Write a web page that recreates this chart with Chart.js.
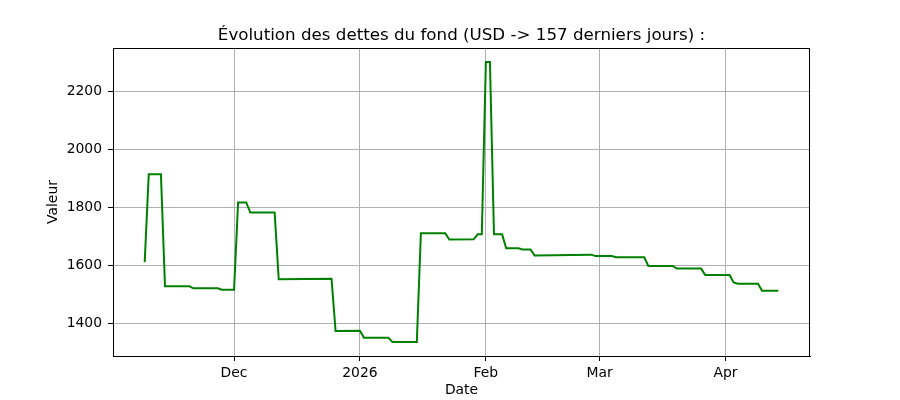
<!DOCTYPE html>
<html>
<head>
<meta charset="utf-8">
<script src="https://cdn.jsdelivr.net/npm/chart.js@4/dist/chart.umd.min.js"></script>
<style>
  html, body { margin: 0; padding: 0; background: #fff; }
</style>
</head>
<body>
<canvas id="debt_chart" width="900" height="400"></canvas>
<script>
// dates where the debt value changes (daily series, only the corners are listed)
const debtDates = [
  '2025-11-09', '2025-11-10', '2025-11-13', '2025-11-14', '2025-11-20', '2025-11-21',
  '2025-11-27', '2025-11-28', '2025-12-01', '2025-12-02', '2025-12-04', '2025-12-05',
  '2025-12-11', '2025-12-12', '2025-12-25', '2025-12-26', '2026-01-01', '2026-01-02',
  '2026-01-08', '2026-01-09', '2026-01-15', '2026-01-16', '2026-01-22', '2026-01-23',
  '2026-01-29', '2026-01-30', '2026-01-31', '2026-02-01', '2026-02-02', '2026-02-03',
  '2026-02-05', '2026-02-06', '2026-02-09', '2026-02-10', '2026-02-12', '2026-02-13',
  '2026-02-27', '2026-02-28', '2026-03-04', '2026-03-05', '2026-03-12', '2026-03-13',
  '2026-03-19', '2026-03-20', '2026-03-26', '2026-03-27', '2026-04-02', '2026-04-03',
  '2026-04-04', '2026-04-09', '2026-04-10', '2026-04-14'
];
const debtValues = [
  1611, 1914, 1914, 1528, 1528, 1521,
  1521, 1516, 1516, 1817, 1817, 1782,
  1782, 1552, 1554, 1374, 1375, 1351,
  1351, 1336, 1336, 1711, 1711, 1689,
  1690, 1707, 1707, 2301, 2301, 1707,
  1707, 1659, 1659, 1655, 1655, 1634,
  1637, 1632, 1632, 1628, 1628, 1598,
  1598, 1589, 1589, 1567, 1567, 1541,
  1537, 1537, 1513, 1513
];
const monthTickDates = ['2025-12-01', '2026-01-01', '2026-02-01', '2026-03-01', '2026-04-01'];
const monthTickLabels = ['Dec', '2026', 'Feb', 'Mar', 'Apr'];
const valueTicks = [1400, 1600, 1800, 2000, 2200];
const chartTitle = 'Évolution des dettes du fond (USD -> 157 derniers jours) :';

const DAY = 86400000;
const origin = Date.UTC(2025, 11, 1);

function toDay(str) {
  const p = str.split('-').map(Number);
  return Math.round((Date.UTC(p[0], p[1] - 1, p[2]) - origin) / DAY);
}

const points = debtDates.map((d, i) => ({ x: toDay(d), y: debtValues[i] }));
const monthDays = monthTickDates.map(toDay);

// matplotlib style 5% margins
const xMin = points[0].x, xMax = points[points.length - 1].x;
const yMin = Math.min(...debtValues), yMax = Math.max(...debtValues);
const xPad = (xMax - xMin) * 0.05, yPad = (yMax - yMin) * 0.05;

const FONT = 'DejaVu Sans';

// frame around the plot + title centred over the plot area
const frame = {
  id: 'frame',
  afterDraw(chart) {
    const a = chart.chartArea;
    const ctx = chart.ctx;
    ctx.save();
    ctx.strokeStyle = '#000';
    ctx.lineWidth = 1;
    ctx.strokeRect(a.left + 0.5, a.top + 0.5, a.right - a.left - 1, a.bottom - a.top);
    ctx.fillStyle = '#000';
    ctx.font = '16.7px "' + FONT + '"';
    ctx.textAlign = 'center';
    ctx.textBaseline = 'middle';
    ctx.fillText(chartTitle, (a.left + a.right) / 2, 35.5);
    ctx.restore();
  }
};

new Chart(document.getElementById('debt_chart'), {
  type: 'line',
  data: {
    datasets: [{
      data: points,
      borderColor: '#008000',
      borderWidth: 2,
      pointRadius: 0,
      tension: 0,
      fill: false
    }]
  },
  plugins: [frame],
  options: {
    responsive: false,
    animation: false,
    devicePixelRatio: 1,
    layout: { padding: { left: 0, right: 90, top: 48, bottom: 0 } },
    plugins: {
      legend: { display: false },
      tooltip: { enabled: false },
      title: { display: false }
    },
    scales: {
      x: {
        type: 'linear',
        min: xMin - xPad,
        max: xMax + xPad,
        afterBuildTicks: s => { s.ticks = monthDays.map(v => ({ value: v })); },
        afterFit: s => { s.height = 44; },
        ticks: {
          color: '#000',
          font: { family: FONT, size: 13.9 },
          padding: 4,
          maxRotation: 0,
          autoSkip: false,
          callback: v => monthTickLabels[monthDays.indexOf(v)]
        },
        grid: { color: '#b0b0b0', lineWidth: 1, tickColor: '#000', tickLength: 5 },
        border: { color: '#000', width: 1 },
        title: {
          display: true,
          text: 'Date',
          color: '#000',
          font: { family: FONT, size: 13.9 },
          padding: { top: 0, bottom: 1 }
        }
      },
      y: {
        min: yMin - yPad,
        max: yMax + yPad,
        afterBuildTicks: s => { s.ticks = valueTicks.map(v => ({ value: v })); },
        afterFit: s => { s.width = 113; },
        ticks: {
          color: '#000',
          font: { family: FONT, size: 13.9 },
          padding: 6,
          callback: v => String(v)
        },
        grid: { color: '#b0b0b0', lineWidth: 1, tickColor: '#000', tickLength: 5 },
        border: { color: '#000', width: 1 },
        title: {
          display: true,
          text: 'Valeur',
          color: '#000',
          font: { family: FONT, size: 13.9 },
          padding: { top: 45, bottom: 0 }
        }
      }
    }
  }
});
</script>
</body>
</html>
